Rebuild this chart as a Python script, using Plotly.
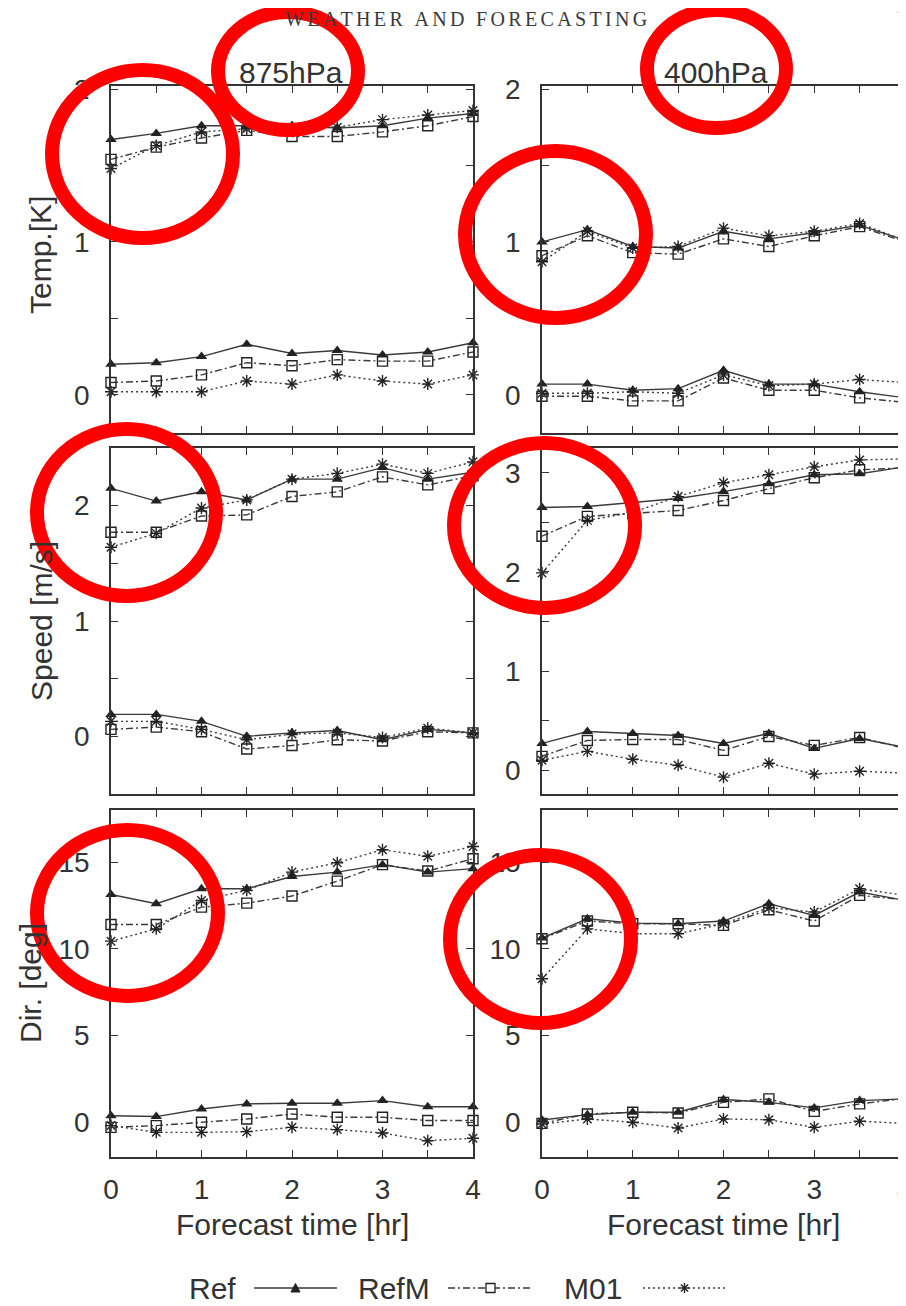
import plotly.graph_objects as go

# ---------------- data ----------------
hours = [0, 0.5, 1, 1.5, 2, 2.5, 3, 3.5, 4]

# Temperature 875 hPa
temp875_ref_hi = [1.67, 1.71, 1.76, 1.76, 1.76, 1.745, 1.76, 1.81, 1.84]
temp875_refm_hi = [1.54, 1.62, 1.68, 1.73, 1.69, 1.69, 1.72, 1.76, 1.82]
temp875_m01_hi = [1.48, 1.63, 1.72, 1.74, 1.75, 1.75, 1.80, 1.83, 1.86]
temp875_ref_lo = [0.20, 0.21, 0.25, 0.33, 0.27, 0.29, 0.26, 0.28, 0.34]
temp875_refm_lo = [0.08, 0.09, 0.13, 0.21, 0.19, 0.23, 0.22, 0.22, 0.28]
temp875_m01_lo = [0.02, 0.02, 0.02, 0.09, 0.07, 0.13, 0.09, 0.07, 0.13]

# Temperature 400 hPa
temp400_ref_hi = [1.00, 1.08, 0.97, 0.96, 1.07, 1.02, 1.06, 1.11, 1.01]
temp400_refm_hi = [0.91, 1.04, 0.93, 0.92, 1.02, 0.97, 1.04, 1.10, 1.00]
temp400_m01_hi = [0.87, 1.07, 0.96, 0.97, 1.09, 1.04, 1.07, 1.12, 1.01]
temp400_ref_lo = [0.07, 0.07, 0.03, 0.04, 0.16, 0.07, 0.07, 0.02, -0.02]
temp400_refm_lo = [-0.01, -0.01, -0.04, -0.04, 0.11, 0.03, 0.03, -0.02, -0.05]
temp400_m01_lo = [0.01, 0.01, 0.02, 0.01, 0.13, 0.06, 0.07, 0.10, 0.08]

# Speed 875 hPa
speed875_ref_hi = [2.15, 2.04, 2.12, 2.05, 2.23, 2.23, 2.33, 2.23, 2.29]
speed875_refm_hi = [1.77, 1.77, 1.91, 1.92, 2.08, 2.12, 2.25, 2.18, 2.26]
speed875_m01_hi = [1.64, 1.76, 1.98, 2.05, 2.23, 2.28, 2.36, 2.28, 2.38]
speed875_ref_lo = [0.19, 0.19, 0.13, 0.00, 0.03, 0.05, -0.03, 0.06, 0.03]
speed875_refm_lo = [0.06, 0.08, 0.04, -0.11, -0.08, -0.03, -0.04, 0.04, 0.03]
speed875_m01_lo = [0.13, 0.13, 0.06, -0.03, 0.02, 0.03, -0.01, 0.07, 0.03]

# Speed 400 hPa
speed400_ref_hi = [2.65, 2.66, 2.70, 2.74, 2.81, 2.89, 2.98, 2.99, 3.06]
speed400_refm_hi = [2.36, 2.56, 2.59, 2.62, 2.72, 2.84, 2.95, 3.03, 3.05]
speed400_m01_hi = [1.99, 2.52, 2.60, 2.76, 2.90, 2.98, 3.06, 3.13, 3.14]
speed400_ref_lo = [0.27, 0.39, 0.37, 0.35, 0.27, 0.37, 0.22, 0.32, 0.23]
speed400_refm_lo = [0.14, 0.30, 0.31, 0.31, 0.20, 0.34, 0.25, 0.33, 0.22]
speed400_m01_lo = [0.10, 0.19, 0.11, 0.05, -0.07, 0.07, -0.04, -0.01, -0.03]

# Direction 875 hPa
dir875_ref_hi = [13.13, 12.60, 13.46, 13.46, 14.17, 14.42, 14.85, 14.42, 14.62]
dir875_refm_hi = [11.40, 11.40, 12.40, 12.63, 13.04, 13.90, 14.85, 14.48, 15.19]
dir875_m01_hi = [10.44, 11.15, 12.79, 13.37, 14.42, 14.96, 15.71, 15.33, 15.90]
dir875_ref_lo = [0.38, 0.33, 0.77, 1.06, 1.10, 1.10, 1.25, 0.90, 0.90]
dir875_refm_lo = [-0.29, -0.19, 0.00, 0.19, 0.48, 0.29, 0.29, 0.10, 0.10]
dir875_m01_lo = [-0.19, -0.58, -0.58, -0.54, -0.29, -0.42, -0.62, -1.06, -0.92]

# Direction 400 hPa
dir400_ref_hi = [10.62, 11.73, 11.48, 11.44, 11.60, 12.60, 11.92, 13.27, 12.79]
dir400_refm_hi = [10.58, 11.60, 11.44, 11.44, 11.35, 12.25, 11.60, 13.08, 12.83]
dir400_m01_hi = [8.27, 11.15, 10.87, 10.87, 11.44, 12.37, 12.12, 13.46, 13.08]
dir400_ref_lo = [0.13, 0.44, 0.58, 0.58, 1.31, 1.15, 0.83, 1.25, 1.35]
dir400_refm_lo = [-0.06, 0.48, 0.58, 0.54, 1.15, 1.35, 0.63, 1.06, 1.38]
dir400_m01_lo = [-0.10, 0.19, 0.00, -0.33, 0.19, 0.15, -0.29, 0.06, -0.06]

series_names = ["Ref", "RefM", "M01"]
level_titles = ["875hPa", "400hPa"]
row_titles = ["Temp.[K]", "Speed [m/s]", "Dir. [deg]"]
x_title = "Forecast time [hr]"
header_text = "WEATHER AND FORECASTING"

# ---------------- layout helpers ----------------
# The page body has an 8px margin, so the figure is sized to fill the rest of
# the 906x1306 window and page pixel positions are converted accordingly.
OFF = 8
W, H = 906 - OFF, 1306 - OFF


def px(x):
    return (x - OFF) / W


def py(y):
    return 1 - (y - OFF) / H


FONT = "Liberation Sans"
FS = 30
TFS = 28
INK = "#333333"
LINE = "#3a3a3a"

styles = {
    "Ref": dict(dash="solid", symbol="triangle-up", size=10, mline=0),
    "RefM": dict(dash="7px,3px,2px,3px", symbol="square-open", size=10, mline=1.4),
    "M01": dict(dash="2px,3px", symbol="asterisk-open", size=10, mline=1.4),
}

x_dom = {0: [px(111), px(473)], 1: [px(542), px(905)]}
y_dom = {0: [py(433), py(86)], 1: [py(794), py(448)], 2: [py(1157), py(810)]}

panels = [
    (0, 0, {"Ref": (temp875_ref_hi, temp875_ref_lo), "RefM": (temp875_refm_hi, temp875_refm_lo),
            "M01": (temp875_m01_hi, temp875_m01_lo)}, [-0.25, 2.02], [0, 0.5, 1, 1.5, 2], [0, 1, 2]),
    (0, 1, {"Ref": (temp400_ref_hi, temp400_ref_lo), "RefM": (temp400_refm_hi, temp400_refm_lo),
            "M01": (temp400_m01_hi, temp400_m01_lo)}, [-0.25, 2.02], [0, 0.5, 1, 1.5, 2], [0, 1, 2]),
    (1, 0, {"Ref": (speed875_ref_hi, speed875_ref_lo), "RefM": (speed875_refm_hi, speed875_refm_lo),
            "M01": (speed875_m01_hi, speed875_m01_lo)}, [-0.5, 2.5], [0, 0.5, 1, 1.5, 2], [0, 1, 2]),
    (1, 1, {"Ref": (speed400_ref_hi, speed400_ref_lo), "RefM": (speed400_refm_hi, speed400_refm_lo),
            "M01": (speed400_m01_hi, speed400_m01_lo)}, [-0.24, 3.25], [0, 0.5, 1, 1.5, 2, 2.5, 3],
     [0, 1, 2, 3]),
    (2, 0, {"Ref": (dir875_ref_hi, dir875_ref_lo), "RefM": (dir875_refm_hi, dir875_refm_lo),
            "M01": (dir875_m01_hi, dir875_m01_lo)}, [-2, 18], [0, 5, 10, 15], [0, 5, 10, 15]),
    (2, 1, {"Ref": (dir400_ref_hi, dir400_ref_lo), "RefM": (dir400_refm_hi, dir400_refm_lo),
            "M01": (dir400_m01_hi, dir400_m01_lo)}, [-2, 18], [0, 5, 10, 15], [0, 5, 10, 15]),
]

fig = go.Figure()
layout = {}
x_ticks = [0, 0.5, 1, 1.5, 2, 2.5, 3, 3.5, 4]
x_text = [str(int(v)) if v == int(v) else "" for v in x_ticks]

for i, (row, col, data, yr, ytv, ylab) in enumerate(panels):
    n = i + 1
    xa = "x" if n == 1 else f"x{n}"
    ya = "y" if n == 1 else f"y{n}"
    for name in ["M01", "RefM", "Ref"]:
        st = styles[name]
        for vals in data[name]:
            fig.add_trace(go.Scatter(
                x=hours, y=vals, mode="lines+markers", name=name, showlegend=False,
                xaxis=xa, yaxis=ya, cliponaxis=False,
                line=dict(color=LINE, width=1.4, dash=st["dash"]),
                marker=dict(symbol=st["symbol"], size=st["size"], color="#222222",
                            line=dict(color="#222222", width=st["mline"])),
            ))
    common = dict(showline=True, linecolor=INK, linewidth=1.5, mirror="ticks",
                  ticks="inside", ticklen=7, tickwidth=1.3, tickcolor=INK,
                  showgrid=False, zeroline=False, automargin=False,
                  ticklabeloverflow="allow",
                  tickfont=dict(family=FONT, size=TFS, color=INK))
    layout["xaxis" if n == 1 else f"xaxis{n}"] = dict(
        common, domain=x_dom[col], range=[0, 4], anchor=ya,
        tickmode="array", tickvals=x_ticks, ticktext=x_text,
        showticklabels=(row == 2), ticklabelstandoff=7)
    layout["yaxis" if n == 1 else f"yaxis{n}"] = dict(
        common, domain=y_dom[row], range=yr, anchor=xa,
        tickmode="array", tickvals=ytv,
        ticktext=[(str(int(v)) if v in ylab else "") for v in ytv],
        ticklabelstandoff=14)

annotations = []


def ann(text, x, y, size=FS, angle=0, xanchor="center", family=FONT, color=INK):
    annotations.append(dict(text=text, x=px(x), y=py(y), xref="paper", yref="paper",
                            showarrow=False, xanchor=xanchor, yanchor="middle",
                            textangle=angle, font=dict(family=family, size=size, color=color)))


ann(level_titles[0], 291, 72)
ann(level_titles[1], 716, 72)
ann(row_titles[0], 40, 255, angle=-90)
ann(row_titles[1], 41, 621, angle=-90)
ann(row_titles[2], 30, 983, angle=-90)
ann(x_title, 292, 1224)
ann(x_title, 723, 1224)

# journal header
sp = "\u2006"
hdr = (" " + sp + sp).join(sp.join(list(w)) for w in header_text.split(" "))
ann(hdr, 466, 19, size=20, family="Liberation Serif", color="#3a3a3a")
ann("V", 895, 19, size=20, family="Liberation Serif", color="#3a3a3a", xanchor="left")

# legend (label then key)
shapes = []
leg_y = 1288
leg_items = [("Ref", 212, 254, 337), ("RefM", 394, 448, 533), ("M01", 593, 643, 726)]
for name, tx, l0, l1 in leg_items:
    ann(name, tx, leg_y)
    st = styles[name]
    shapes.append(dict(type="line", xref="paper", yref="paper", x0=px(l0), x1=px(l1),
                       y0=py(leg_y), y1=py(leg_y),
                       line=dict(color=LINE, width=1.3, dash=st["dash"])))
    cx = (l0 + l1) / 2
    if name == "Ref":
        path = f"M {px(cx-4.5)},{py(leg_y+4)} L {px(cx+4.5)},{py(leg_y+4)} L {px(cx)},{py(leg_y-4.5)} Z"
        shapes.append(dict(type="path", xref="paper", yref="paper", path=path,
                           fillcolor="#222222", line=dict(color="#222222", width=1)))
    elif name == "RefM":
        shapes.append(dict(type="rect", xref="paper", yref="paper", x0=px(cx - 4.5), x1=px(cx + 4.5),
                           y0=py(leg_y + 4.5), y1=py(leg_y - 4.5), fillcolor="white",
                           line=dict(color="#222222", width=1.3)))
    else:
        for dx, dy in [(5, 0), (0, 5), (3.6, 3.6), (3.6, -3.6)]:
            shapes.append(dict(type="line", xref="paper", yref="paper",
                               x0=px(cx - dx), x1=px(cx + dx), y0=py(leg_y - dy), y1=py(leg_y + dy),
                               line=dict(color="#222222", width=1.4)))

# red highlight circles (centre-line boxes, page pixels)
circles = [(52, 70, 233, 238), (218, 12, 358, 130), (647, 10, 786, 128), (465, 151, 646, 318),
           (37, 429, 216, 596), (454, 443, 635, 608), (37, 830, 218, 996), (450, 855, 631, 1023)]
for x0, y0, x1, y1 in circles:
    shapes.append(dict(type="circle", xref="paper", yref="paper", layer="above",
                       x0=px(x0), x1=px(x1), y0=py(y1), y1=py(y0),
                       line=dict(color="#ff0000", width=14)))

fig.update_layout(
    width=W, height=H, margin=dict(l=0, r=0, t=0, b=0, pad=0), autosize=False,
    paper_bgcolor="white", plot_bgcolor="white", showlegend=False,
    annotations=annotations, shapes=shapes, **layout)

fig.write_html("out.html", include_plotlyjs=True, full_html=True,
               default_width=f"{W}px", default_height=f"{H}px")
